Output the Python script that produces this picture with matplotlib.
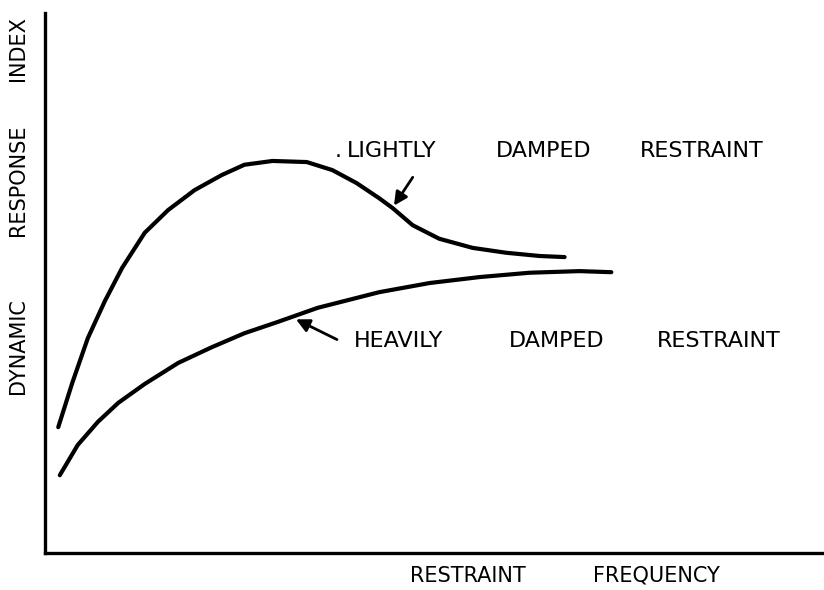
"""
Sketch: dynamic response index vs restraint frequency
"""
import matplotlib
matplotlib.use("Agg")
import matplotlib.pyplot as plt

# values (arbitrary 0-10 units)
LIGHT_X = [0.17, 0.35, 0.55, 0.77, 0.99, 1.28, 1.58, 1.92, 2.27, 2.56, 2.92,
           3.36, 3.69, 4.00, 4.29, 4.46, 4.72, 5.06, 5.49, 5.92, 6.35, 6.67]
LIGHT_Y = [2.33, 3.15, 3.98, 4.67, 5.28, 5.93, 6.35, 6.72, 7.00, 7.19, 7.26,
           7.24, 7.09, 6.85, 6.57, 6.39, 6.07, 5.82, 5.65, 5.56, 5.50, 5.48]

HEAVY_X = [0.19, 0.42, 0.68, 0.94, 1.28, 1.71, 2.14, 2.56, 2.99, 3.50, 4.29,
           4.94, 5.58, 6.22, 6.86, 7.27]
HEAVY_Y = [1.44, 2.00, 2.43, 2.78, 3.13, 3.52, 3.81, 4.07, 4.28, 4.54, 4.83,
           5.00, 5.11, 5.19, 5.22, 5.20]

LIGHT_WORDS = ["LIGHTLY", "DAMPED", "RESTRAINT"]
HEAVY_WORDS = ["HEAVILY", "DAMPED", "RESTRAINT"]
XLABEL_WORDS = ["RESTRAINT", "FREQUENCY"]
YLABEL_WORDS = ["DYNAMIC", "RESPONSE", "INDEX"]

FIG = plt.figure(figsize=(8.24, 5.9), dpi=100)
AX = FIG.add_axes([45 / 824, 37 / 590, 779 / 824, 540 / 590])

AX.plot(LIGHT_X, LIGHT_Y, color='black', lw=3, solid_capstyle='round',
        solid_joinstyle='round')
AX.plot(HEAVY_X, HEAVY_Y, color='black', lw=3, solid_capstyle='round',
        solid_joinstyle='round')

AX.set_xlim(0, 10)
AX.set_ylim(0, 10)
AX.set_xticks([])
AX.set_yticks([])
for side in ['top', 'right']:
    AX.spines[side].set_visible(False)
for side in ['left', 'bottom']:
    AX.spines[side].set_linewidth(2.4)

# pointer arrows
ARROW = dict(arrowstyle='-|>', color='black', lw=2, mutation_scale=20)
AX.annotate('', xy=(4.46, 6.39), xytext=(4.74, 7.0), arrowprops=ARROW)
AX.annotate('', xy=(3.19, 4.35), xytext=(3.78, 3.93), arrowprops=ARROW)

TEXT_STYLE = dict(fontsize=16, color='black', va='center', ha='left')
AX.text(3.72, 7.45, '.', **TEXT_STYLE)
for word, xpos in zip(LIGHT_WORDS, [3.88, 5.79, 7.63]):
    AX.text(xpos, 7.45, word, **TEXT_STYLE)
for word, xpos in zip(HEAVY_WORDS, [3.97, 5.96, 7.86]):
    AX.text(xpos, 3.93, word, **TEXT_STYLE)

# axis labels, word by word like the hand lettering
for word, xpix in zip(XLABEL_WORDS, [410, 593]):
    FIG.text(xpix / 824, 1 - 576 / 590, word, fontsize=15, va='center', ha='left')
for word, ypix in zip(YLABEL_WORDS, [346, 180, 49]):
    FIG.text(18 / 824, 1 - ypix / 590, word, fontsize=15, rotation=90,
             va='center', ha='center')

FIG.savefig('out.png', dpi=100)
